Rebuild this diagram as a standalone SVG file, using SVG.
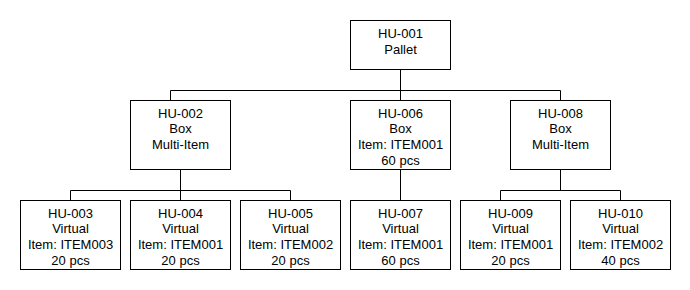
<svg xmlns="http://www.w3.org/2000/svg" width="690" height="290" viewBox="0 0 690 290">
<style>
.box{fill:#fff;stroke:#000;stroke-width:1}
.c{fill:none;stroke:#000;stroke-width:1}
text{font-family:"Liberation Sans",Arial,sans-serif;font-size:13px;fill:#000;text-anchor:middle}
</style>
<rect width="690" height="290" fill="#fff"/>
<g id="connectors">
<path class="c" d="M400.5 70V90.5M170.5 90.5H560.5M170.5 90.5V100M400.5 90.5V100M560.5 90.5V100"/>
<path class="c" d="M180.5 170V190.5M70.5 190.5H290.5M70.5 190.5V200M180.5 190.5V200M290.5 190.5V200"/>
<path class="c" d="M400.5 170V200"/>
<path class="c" d="M560.5 170V190.5M500.5 190.5H620.5M500.5 190.5V200M620.5 190.5V200"/>
</g>
<g id="HU-001"><rect class="box" x="350.5" y="20.5" width="100" height="49"/><text x="400.5" y="38">HU-001</text><text x="400.5" y="53.6">Pallet</text></g>
<g id="HU-002"><rect class="box" x="130.5" y="100.5" width="100" height="69"/><text x="180.5" y="117.8">HU-002</text><text x="180.5" y="133.4">Box</text><text x="180.5" y="149">Multi-Item</text></g>
<g id="HU-006"><rect class="box" x="350.5" y="100.5" width="100" height="69"/><text x="400.5" y="117.8">HU-006</text><text x="400.5" y="133.4">Box</text><text x="400.5" y="149">Item: ITEM001</text><text x="400.5" y="164.6">60 pcs</text></g>
<g id="HU-008"><rect class="box" x="510.5" y="100.5" width="100" height="69"/><text x="560.5" y="117.8">HU-008</text><text x="560.5" y="133.4">Box</text><text x="560.5" y="149">Multi-Item</text></g>
<g id="HU-003"><rect class="box" x="20.5" y="200.5" width="100" height="69"/><text x="70.5" y="217.8">HU-003</text><text x="70.5" y="233.4">Virtual</text><text x="70.5" y="249">Item: ITEM003</text><text x="70.5" y="264.6">20 pcs</text></g>
<g id="HU-004"><rect class="box" x="130.5" y="200.5" width="100" height="69"/><text x="180.5" y="217.8">HU-004</text><text x="180.5" y="233.4">Virtual</text><text x="180.5" y="249">Item: ITEM001</text><text x="180.5" y="264.6">20 pcs</text></g>
<g id="HU-005"><rect class="box" x="240.5" y="200.5" width="100" height="69"/><text x="290.5" y="217.8">HU-005</text><text x="290.5" y="233.4">Virtual</text><text x="290.5" y="249">Item: ITEM002</text><text x="290.5" y="264.6">20 pcs</text></g>
<g id="HU-007"><rect class="box" x="350.5" y="200.5" width="100" height="69"/><text x="400.5" y="217.8">HU-007</text><text x="400.5" y="233.4">Virtual</text><text x="400.5" y="249">Item: ITEM001</text><text x="400.5" y="264.6">60 pcs</text></g>
<g id="HU-009"><rect class="box" x="460.5" y="200.5" width="100" height="69"/><text x="510.5" y="217.8">HU-009</text><text x="510.5" y="233.4">Virtual</text><text x="510.5" y="249">Item: ITEM001</text><text x="510.5" y="264.6">20 pcs</text></g>
<g id="HU-010"><rect class="box" x="570.5" y="200.5" width="100" height="69"/><text x="620.5" y="217.8">HU-010</text><text x="620.5" y="233.4">Virtual</text><text x="620.5" y="249">Item: ITEM002</text><text x="620.5" y="264.6">40 pcs</text></g>
</svg>
